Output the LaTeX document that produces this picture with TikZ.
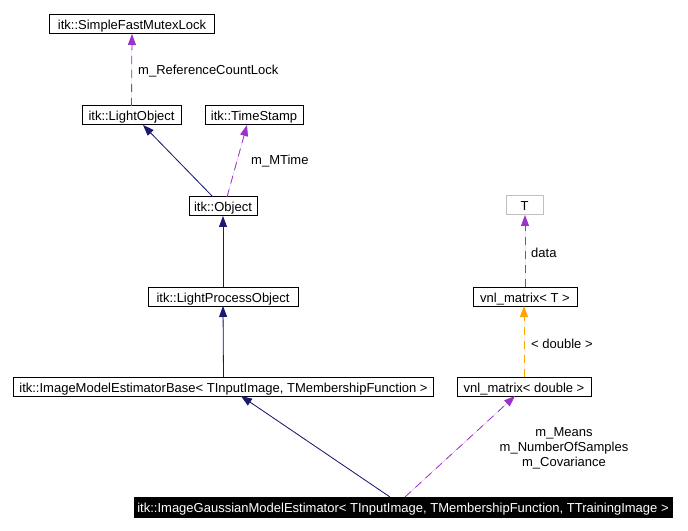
\documentclass[tikz,border=0pt]{standalone}
\usepackage{fontspec}
\setmainfont{Liberation Sans}
\usetikzlibrary{arrows.meta}
\definecolor{navyedge}{HTML}{191970}
\definecolor{purpedge}{HTML}{9A32CD}
\definecolor{orangeedge}{HTML}{FFA500}
\definecolor{grayborder}{HTML}{BFBFBF}
\begin{document}
\begin{tikzpicture}[x=1bp,y=-1bp,
  every node/.style={font=\fontsize{13bp}{15bp}\selectfont},
  cls/.style={draw=black,line width=1bp,fill=white,minimum height=19bp,inner sep=0pt,outer sep=0pt,text height=11bp,text depth=0bp},
  graybox/.style={draw=grayborder,line width=1bp,fill=white,minimum height=19bp,inner sep=0pt,outer sep=0pt,text height=11bp,text depth=0bp},
  mainbox/.style={draw=black,fill=black,text=white,minimum height=20bp,inner sep=0pt,outer sep=0pt,text height=11bp,text depth=0bp},
  lbl/.style={inner sep=0pt},
  tip/.style={-{Triangle[length=11bp,width=8bp]}},
  inherit/.style={tip,draw=navyedge,fill=navyedge,line width=0.8bp},
  usage/.style={tip,draw=purpedge,fill=purpedge,line width=0.8bp,dash pattern=on 8bp off 6bp},
  templ/.style={tip,draw=orangeedge,fill=orangeedge,line width=0.8bp,dash pattern=on 8bp off 6bp}]
\useasboundingbox[fill=white] (0,0) rectangle (688,531);

\node[cls,minimum width=164bp] (sfml) at (132,24.5) {itk::SimpleFastMutexLock};
\node[cls,minimum width=99bp] (lo) at (131.5,115.5) {itk::LightObject};
\node[cls,minimum width=98bp] (ts) at (254,115.5) {itk::TimeStamp};
\node[cls,minimum width=68bp] (obj) at (223,206.5) {itk::Object};
\node[cls,minimum width=150bp] (lpo) at (223,296.5) {itk::LightProcessObject};
\node[cls,minimum width=419bp] (imeb) at (223.5,386.5) {itk::ImageModelEstimatorBase< TInputImage, TMembershipFunction >};
\node[cls,minimum width=134bp] (vmd) at (524,386.5) {vnl\_matrix< double >};
\node[cls,minimum width=104bp] (vmt) at (525,296.5) {vnl\_matrix< T >};
\node[graybox,minimum width=37bp] (T) at (524.5,205.5) {T};
\node[mainbox,minimum width=538bp] (igme) at (403,507) {itk::ImageGaussianModelEstimator< TInputImage, TMembershipFunction, TTrainingImage >};

% edges
\draw[usage] (lo.north) -- (sfml.south);
\draw[inherit] ([xshift=-10bp]obj.north) -- ([xshift=11.5bp]lo.south);
\draw[usage] ([xshift=4bp]obj.north) -- ([xshift=-7bp]ts.south);
\draw[inherit] (lpo.north) -- (obj.south);
\draw[inherit] (imeb.north) -- (lpo.south);
\draw[inherit] ([xshift=-13bp]igme.north) -- ([xshift=17.5bp]imeb.south);
\draw[usage] ([xshift=2bp]igme.north) -- ([xshift=-9bp]vmd.south);
\draw[templ] (vmd.north) -- (vmd.north |- vmt.south);
\draw[usage] (vmt.north) -- (vmt.north |- T.south);

% labels
\node[lbl,anchor=west] (l1) at (138,71.5) {m\_ReferenceCountLock};
\node[lbl,anchor=west] (l2) at (251,161.5) {m\_MTime};
\node[lbl,anchor=west] (l3) at (531,252.5) {data};
\node[lbl,anchor=west] (l4) at (531,343.5) {< double >};
\node[lbl,align=center] (l5) at (564,448.5) {m\_Means\\m\_NumberOfSamples\\m\_Covariance};
\end{tikzpicture}
\end{document}
